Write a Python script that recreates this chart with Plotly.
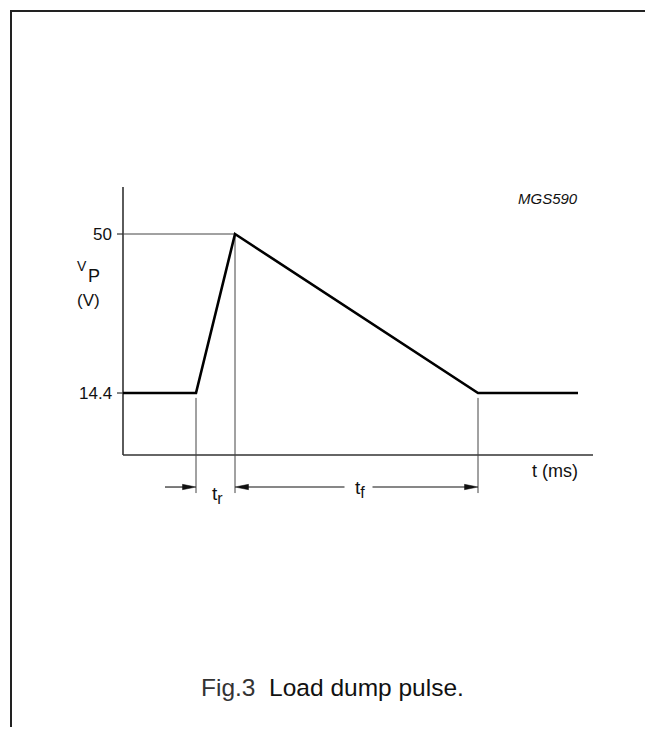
import plotly.graph_objects as go

# ---- data (time in arbitrary ms units, voltage in V) ----
pulse_t = [0, 7.3, 11.2, 35.5, 45.5]
pulse_v = [14.4, 14.4, 50, 14.4, 14.4]
ytick_vals = [14.4, 50]
ytick_text = ["14.4", "50"]
t_axis_end = 47.0
v_axis_origin = 0.52
v_axis_top = 60.52

# ---- geometry (pixel <-> data scale); page body has an 8px margin ----
OFF = 8.0
W, H = 653 - int(OFF), 735 - 2 * int(OFF)
px_per_t = 10.0
x0_px = 123.0 - OFF
px_per_v = 159.0 / 35.6
y0_px = 455.0 - OFF


def vx(px):  # screen px -> t
    return (px - OFF - x0_px) / px_per_t


def vy(py):  # screen px -> v
    return v_axis_origin + (y0_px - (py - OFF)) / px_per_v


x_range = [(0 - x0_px) / px_per_t, (W - x0_px) / px_per_t]
y_range = [v_axis_origin - (H - y0_px) / px_per_v, v_axis_origin + y0_px / px_per_v]

t_rise0, t_peak, t_fall_end = pulse_t[1], pulse_t[2], pulse_t[3]
v_base, v_peak = pulse_v[0], pulse_v[2]

ext_gap = 1.1
dim_bottom = -8.0
dim_arrow_v = -6.65
tick_len = 0.6
head_len = 1.35
head_half = 0.6

fig = go.Figure()

axis_col = "#333333"
thin_col = "#444444"


def line(xs, ys, col, w):
    fig.add_trace(go.Scatter(x=xs, y=ys, mode="lines", line=dict(color=col, width=w),
                             hoverinfo="skip"))


# axes
line([0, 0], [v_axis_origin, v_axis_top], axis_col, 1.6)
line([0, t_axis_end], [v_axis_origin, v_axis_origin], axis_col, 1.6)
# tick marks
for v in ytick_vals:
    line([-tick_len, 0], [v, v], axis_col, 1.2)
# reference line at peak level
line([0, t_peak], [v_peak, v_peak], thin_col, 1)
# dimension extension lines
line([t_rise0, t_rise0], [v_base - ext_gap, dim_bottom], thin_col, 1)
line([t_peak, t_peak], [v_peak, dim_bottom], thin_col, 1)
line([t_fall_end, t_fall_end], [v_base - ext_gap, dim_bottom], thin_col, 1)

# pulse
line(pulse_t, pulse_v, "#000000", 2.6)

# dimension arrows (shafts + filled heads)
tf_mid = (t_peak + t_fall_end) / 2
arrows = [  # (tail, head)
    (t_rise0 - 3.1, t_rise0),
    (tf_mid - 1.2, t_peak),
    (tf_mid + 1.6, t_fall_end),
]
for tail, head in arrows:
    d = 1 if head > tail else -1
    line([tail, head - d * head_len * 0.8], [dim_arrow_v, dim_arrow_v], "#111111", 1.1)
    fig.add_trace(go.Scatter(
        x=[head, head - d * head_len, head - d * head_len, head],
        y=[dim_arrow_v, dim_arrow_v + head_half, dim_arrow_v - head_half, dim_arrow_v],
        mode="lines", fill="toself", fillcolor="#111111",
        line=dict(color="#111111", width=0.5), hoverinfo="skip"))

font = "Liberation Sans, Arial, sans-serif"
txt = "#111111"
ann = []

# y tick labels
for v, s in zip(ytick_vals, ytick_text):
    ann.append(dict(x=-tick_len - 0.3, y=v, text=s, showarrow=False, xanchor="right",
                    yanchor="middle", font=dict(family=font, size=17, color=txt)))

# axis labels
ann.append(dict(x=vx(82), y=vy(266), text="V", showarrow=False, xanchor="center",
                yanchor="middle", font=dict(family=font, size=14, color=txt)))
ann.append(dict(x=vx(93.5), y=vy(276), text="P", showarrow=False, xanchor="center",
                yanchor="middle", font=dict(family=font, size=18, color=txt)))
ann.append(dict(x=vx(88), y=vy(300), text="(V)", showarrow=False, xanchor="center",
                yanchor="middle", font=dict(family=font, size=17, color=txt)))
ann.append(dict(x=vx(555), y=vy(471), text="t (ms)", showarrow=False, xanchor="center",
                yanchor="middle", font=dict(family=font, size=18, color=txt)))
ann.append(dict(x=vx(548), y=vy(198), text="<i>MGS590</i>", showarrow=False,
                xanchor="center", yanchor="middle", font=dict(family=font, size=15, color=txt)))

ann.append(dict(x=(t_rise0 + t_peak) / 2 + 0.15, y=vy(495),
                text="t<sub><span style='font-size:16px'>r</span></sub>",
                showarrow=False, xanchor="center", yanchor="middle",
                font=dict(family=font, size=19, color=txt)))
ann.append(dict(x=tf_mid + 0.3, y=vy(489),
                text="t<sub><span style='font-size:16px'>f</span></sub>",
                showarrow=False, xanchor="center", yanchor="middle",
                font=dict(family=font, size=19, color=txt)))

# caption
ann.append(dict(x=(332 - OFF) / W, y=1 - (687 - OFF) / H, xref="paper", yref="paper",
                text="<span style='color:#333'>Fig.3</span>  Load dump pulse.",
                showarrow=False, xanchor="center", yanchor="middle",
                font=dict(family=font, size=24.5, color=txt)))

fig.update_layout(
    width=W, height=H,
    margin=dict(l=0, r=0, t=0, b=0),
    paper_bgcolor="white", plot_bgcolor="white",
    showlegend=False,
    xaxis=dict(range=x_range, visible=False, fixedrange=True),
    yaxis=dict(range=y_range, visible=False, fixedrange=True),
    annotations=ann,
    shapes=[dict(type="rect", xref="paper", yref="paper",
                 x0=(11 - OFF) / W, x1=(651.5 - OFF) / W, y0=-0.05, y1=1 - (11 - OFF) / H,
                 line=dict(color="#222222", width=2), fillcolor="rgba(0,0,0,0)")],
)

fig.write_html("out.html")
